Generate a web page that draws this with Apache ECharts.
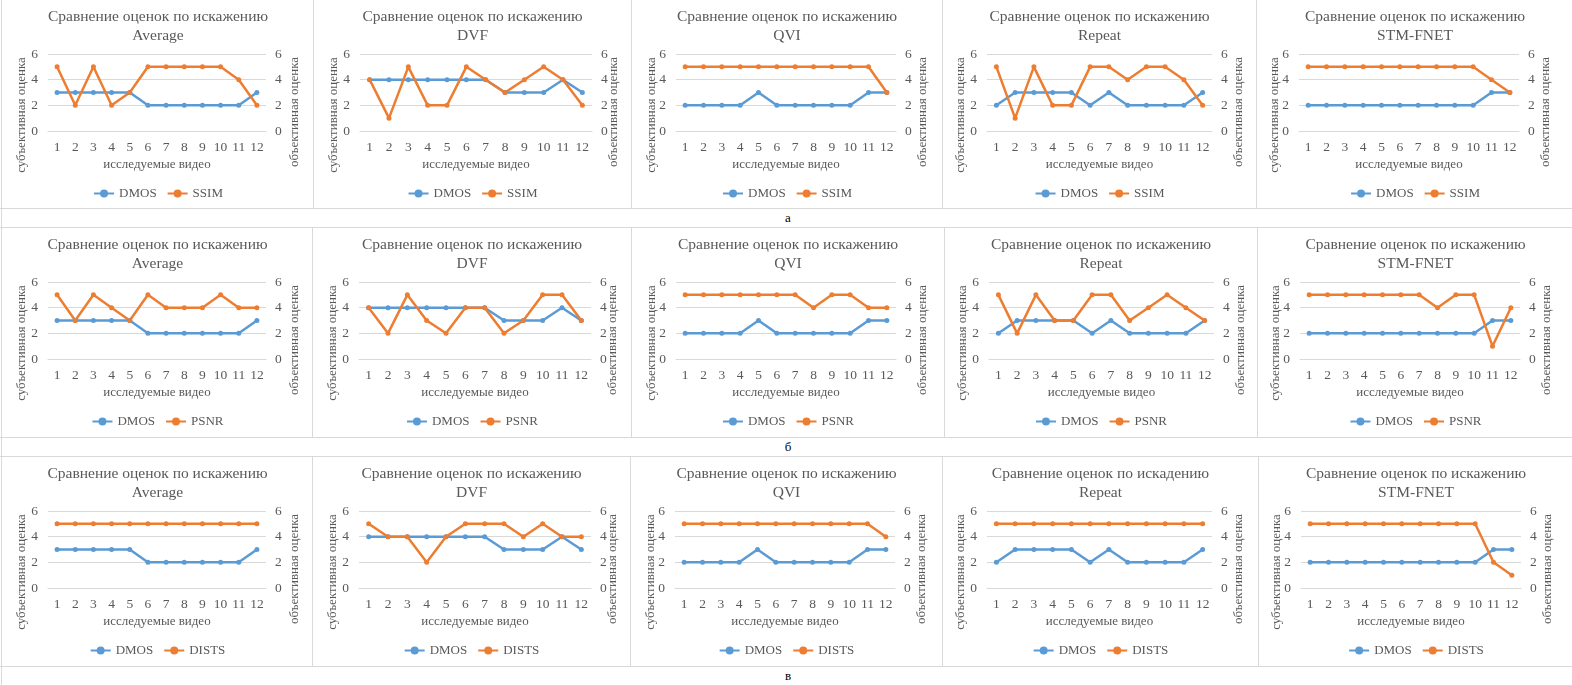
<!DOCTYPE html>
<html><head><meta charset="utf-8">
<script src="https://cdn.jsdelivr.net/npm/echarts@6/dist/echarts.min.js"></script>
<style>
html,body{margin:0;padding:0;background:#fff;}
#page{position:relative;width:1572px;height:686px;overflow:hidden;font-family:'Liberation Serif',serif;background:#fff;}
.panel{position:absolute;}
.hl{position:absolute;left:0;width:1572px;height:1px;background:#d9d9d9;}
.vl{position:absolute;width:1px;background:#d9d9d9;}
.cap{position:absolute;width:40px;margin-left:-20px;text-align:center;font-size:13px;color:#000;line-height:14px;font-family:'Liberation Serif',serif;}
</style></head><body><div id="page"></div>
<script>
// ---------------- data ----------------
const categories = ['1','2','3','4','5','6','7','8','9','10','11','12'];
const distortions = ['Average','DVF','QVI','Repeat','STM-FNET'];
const metrics = ['SSIM','PSNR','DISTS'];
const captions = ['а','б','в'];
const titlePrefix = 'Сравнение оценок по искажению';
const titlePrefixTypo = 'Сравнение оценок по искадению';
const xAxisName = 'исследуемые видео';
const leftAxisName = 'субъективная оценка';
const rightAxisName = 'объективная оценка';
const seriesDmos = 'DMOS';

const dmosAverage = [3,3,3,3,3,2,2,2,2,2,2,3];
const dmosDVF     = [4,4,4,4,4,4,4,3,3,3,4,3];
const dmosQVI     = [2,2,2,2,3,2,2,2,2,2,3,3];
const dmosRepeat  = [2,3,3,3,3,2,3,2,2,2,2,3];
const dmosSTM     = [2,2,2,2,2,2,2,2,2,2,3,3];

const ssimAverage = [5,2,5,2,3,5,5,5,5,5,4,2];
const ssimDVF     = [4,1,5,2,2,5,4,3,4,5,4,2];
const ssimQVI     = [5,5,5,5,5,5,5,5,5,5,5,3];
const ssimRepeat  = [5,1,5,2,2,5,5,4,5,5,4,2];
const ssimSTM     = [5,5,5,5,5,5,5,5,5,5,4,3];

const psnrAverage = [5,3,5,4,3,5,4,4,4,5,4,4];
const psnrDVF     = [4,2,5,3,2,4,4,2,3,5,5,3];
const psnrQVI     = [5,5,5,5,5,5,5,4,5,5,4,4];
const psnrRepeat  = [5,2,5,3,3,5,5,3,4,5,4,3];
const psnrSTM     = [5,5,5,5,5,5,5,4,5,5,1,4];

const distsAverage = [5,5,5,5,5,5,5,5,5,5,5,5];
const distsDVF     = [5,4,4,2,4,5,5,5,4,5,4,4];
const distsQVI     = [5,5,5,5,5,5,5,5,5,5,5,4];
const distsRepeat  = [5,5,5,5,5,5,5,5,5,5,5,5];
const distsSTM     = [5,5,5,5,5,5,5,5,5,5,2,1];

// ---------------- assembly ----------------
const dmosList = [dmosAverage, dmosDVF, dmosQVI, dmosRepeat, dmosSTM];
const metricLists = [
  [ssimAverage, ssimDVF, ssimQVI, ssimRepeat, ssimSTM],
  [psnrAverage, psnrDVF, psnrQVI, psnrRepeat, psnrSTM],
  [distsAverage, distsDVF, distsQVI, distsRepeat, distsSTM]
];

const rowsLayout = [
  {top:0,   h:208, xs:[0,313,631,942,1256,1572], cap:218},
  {top:228, h:209, xs:[0,312,631,944,1257,1572], cap:447},
  {top:457, h:209, xs:[0,312,630,942,1258,1572], cap:676}
];
const colLayout = [
  {gl:48, gr:266, ln:22, rn:295},
  {gl:47, gr:279, ln:21, rn:301},
  {gl:45, gr:265, ln:21, rn:292},
  {gl:45, gr:270, ln:19, rn:297},
  {gl:43, gr:263, ln:19, rn:290}
];

const TXT = '#595959';
const GRID = '#d9d9d9';
const FONT = "'Liberation Serif', 'Times New Roman', serif";
const page = document.getElementById('page');

function addDiv(cls, css, text) {
  const d = document.createElement('div');
  d.className = cls;
  Object.assign(d.style, css);
  if (text) d.textContent = text;
  page.appendChild(d);
  return d;
}

// table lines
[208, 227, 437, 456, 666, 685].forEach(y => addDiv('hl', {top: y + 'px'}));
addDiv('vl', {left: '1px', top: '0px', height: '686px'});
rowsLayout.forEach((r, ri) => {
  for (let i = 1; i < 5; i++) addDiv('vl', {left: r.xs[i] + 'px', top: r.top + 'px', height: r.h + 'px'});
  addDiv('cap', {left: '788px', top: (r.cap - 7) + 'px'}, captions[ri]);
});

rowsLayout.forEach((r, ri) => {
  distortions.forEach((dist, ci) => {
    const w = r.xs[ci + 1] - r.xs[ci] - (ci < 4 ? 1 : 0);
    const off = ci > 0 ? 1 : 2;
    const div = addDiv('panel', {left: (r.xs[ci] + off) + 'px', top: (r.top + 1) + 'px', width: w + 'px', height: (r.h - 1) + 'px'});
    const c = colLayout[ci];
    const metric = metrics[ri];
    const prefix = (ri === 2 && dist === 'Repeat') ? titlePrefixTypo : titlePrefix;
    const chart = echarts.init(div, null, {renderer: 'canvas'});
    const yAxisCommon = {
      type: 'value', min: 0, max: 6, interval: 2,
      axisLine: {show: false}, axisTick: {show: false},
      axisLabel: {color: TXT, fontSize: 13.5, fontFamily: FONT, margin: 10}
    };
    chart.setOption({
      animation: false,
      textStyle: {fontFamily: FONT},
      title: {
        text: prefix + '\n' + dist,
        left: 'center', top: 0, padding: [6, 5, 5, 5],
        textStyle: {color: TXT, fontSize: 15.5, fontWeight: 'normal', fontFamily: FONT, lineHeight: 19}
      },
      legend: {
        data: [seriesDmos, metric], left: 'center', top: 181,
        itemWidth: 20, itemHeight: 10, itemGap: 10,
        textStyle: {color: TXT, fontSize: 13, fontFamily: FONT}
      },
      grid: {left: c.gl - off, width: c.gr - c.gl, top: 53, height: 77},
      xAxis: {
        type: 'category', data: categories, boundaryGap: true,
        axisLine: {lineStyle: {color: GRID}}, axisTick: {show: false},
        axisLabel: {color: TXT, fontSize: 13.5, fontFamily: FONT, margin: 9, interval: 0},
        name: xAxisName, nameLocation: 'middle', nameGap: 27,
        nameTextStyle: {color: TXT, fontSize: 13, fontFamily: FONT}
      },
      yAxis: [
        Object.assign({}, yAxisCommon, {splitLine: {lineStyle: {color: GRID}}}),
        Object.assign({}, yAxisCommon, {splitLine: {show: false}, axisLabel: {color: TXT, fontSize: 13.5, fontFamily: FONT, margin: 9}})
      ],
      graphic: [
        {type: 'text', x: c.ln - off, y: 115 - 1, rotation: Math.PI / 2, silent: true,
         style: {text: leftAxisName, fill: TXT, fontSize: 13, fontFamily: FONT, align: 'center', verticalAlign: 'middle', textAlign: 'center', textVerticalAlign: 'middle'}},
        {type: 'text', x: c.rn - off, y: 112 - 1, rotation: Math.PI / 2, silent: true,
         style: {text: rightAxisName, fill: TXT, fontSize: 13, fontFamily: FONT, align: 'center', verticalAlign: 'middle', textAlign: 'center', textVerticalAlign: 'middle'}}
      ],
      series: [
        {name: seriesDmos, type: 'line', yAxisIndex: 0, data: dmosList[ci],
         symbol: 'circle', symbolSize: 5, color: '#5B9BD5', lineStyle: {width: 2.5, color: '#5B9BD5'}, itemStyle: {color: '#5B9BD5'}},
        {name: metric, type: 'line', yAxisIndex: 1, data: metricLists[ri][ci],
         symbol: 'circle', symbolSize: 5, color: '#ED7D31', lineStyle: {width: 2.5, color: '#ED7D31'}, itemStyle: {color: '#ED7D31'}}
      ]
    });
  });
});
</script></body></html>
